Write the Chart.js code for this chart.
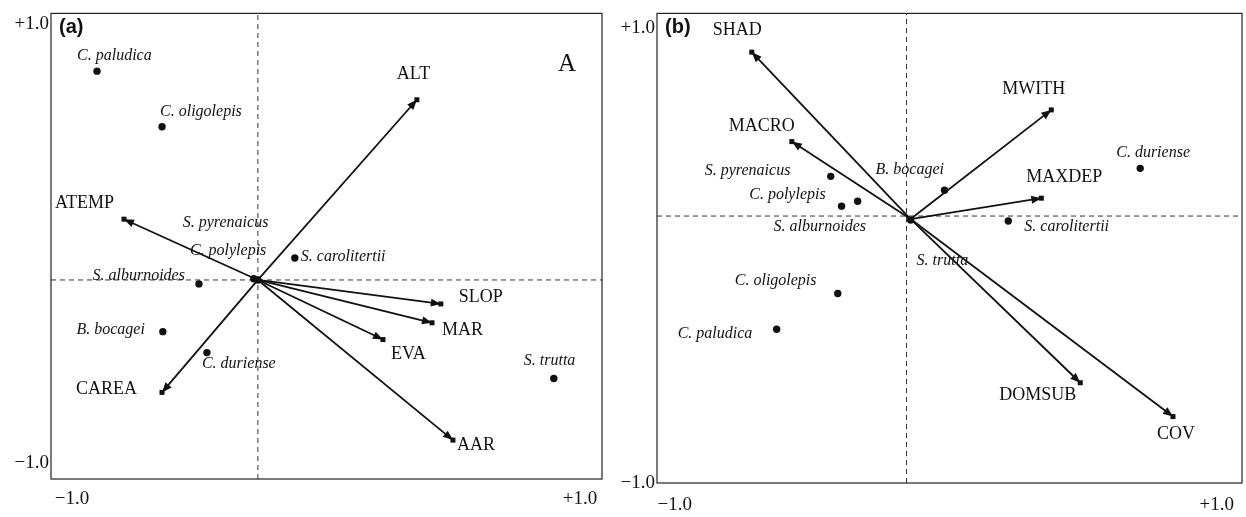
<!DOCTYPE html>
<html>
<head>
<meta charset="utf-8">
<script src="https://cdn.jsdelivr.net/npm/chart.js@4.4.1/dist/chart.umd.min.js"></script>
<style>
  html, body { margin: 0; padding: 0; background: #fff; }
  #wrap { position: relative; width: 1246px; height: 517px; }
  .panel { position: absolute; top: 0; height: 517px; }
  #panelA { left: 0; width: 620px; }
  #panelB { left: 620px; width: 626px; }
</style>
</head>
<body>
<div id="wrap">
  <div class="panel" id="panelA"><canvas id="chartA"></canvas></div>
  <div class="panel" id="panelB"><canvas id="chartB"></canvas></div>
</div>
<script>
// --- species (same list in both panels) ---
const SPECIES = ['C. paludica', 'C. oligolepis', 'S. pyrenaicus', 'C. polylepis', 'S. carolitertii',
                 'S. alburnoides', 'B. bocagei', 'C. duriense', 'S. trutta'];

// --- panel (a): landscape variables ---
const speciesAX = [-0.584, -0.348, -0.015, 0.000, 0.134, -0.214, -0.345, -0.185, 1.074];
const speciesAY = [ 0.897,  0.658,  0.005, 0.000, 0.094, -0.017, -0.222, -0.312, -0.423];
const varsA  = ['ALT', 'ATEMP', 'SLOP', 'MAR', 'EVA', 'AAR', 'CAREA'];
const varsAX = [0.577, -0.486,  0.664,  0.632,  0.454,  0.708, -0.348];
const varsAY = [0.774,  0.261, -0.103, -0.184, -0.256, -0.688, -0.483];
const arrowBaseA = [0, 0];
const rangeAX = [-0.751, 1.249];
const rangeAY = [-0.855, 1.145];
const xTickValsA = [-0.675, 1.169];
const yTickValsA = [-0.786, 1.098];

// --- panel (b): habitat variables ---
const speciesBX = [-0.444, -0.235, -0.259, -0.167, 0.348, -0.222, 0.130, 0.799,  0.014];
const speciesBY = [-0.482, -0.330,  0.169,  0.063, -0.021, 0.042, 0.110, 0.203, -0.017];
const varsB  = ['SHAD', 'MACRO', 'MWITH', 'MAXDEP', 'DOMSUB', 'COV'];
const varsBX = [-0.529, -0.392, 0.495, 0.461,  0.594,  0.911];
const varsBY = [ 0.698,  0.317, 0.452, 0.076, -0.710, -0.854];
const arrowBaseB = [0.014, -0.013];
const rangeBX = [-0.853, 1.147];
const rangeBY = [-1.137, 0.863];
const xTickValsB = [-0.792, 1.061];
const yTickValsB = [-1.137, 0.799];

const TICK_LABELS = ['\u22121.0', '+1.0'];

// --- styling ---
const INK = '#111';
const SERIF = '"Liberation Serif", "DejaVu Serif", serif';
const SPECIES_FONT = 'italic 16px ' + SERIF;
const VAR_FONT = '18px ' + SERIF;

// label offsets in px: [dx, dy, align]
const spLabelOffA = [[-20, -15], [-2, -15], [-71, -56], [-68, -29], [6, -1],
                     [-14, -8, 'right'], [-18, -2, 'right'], [-5, 11], [-30, -18]];
const varLabelOffA = [[-20, -26], [-69, -16], [18, -7], [10, 7], [8, 15], [4, 5], [-86, -3]];
const spLabelOffB = [[-99, 5], [-103, -13], [-126, -6], [-32, -6, 'right'], [16, 6],
                     [-68, 21], [-69, -20], [-24, -16], [6, 41]];
const varLabelOffB = [[-39, -22], [-63, -15], [-49, -21], [-15, -21], [-81, 13], [-16, 18]];

function makePanel(canvasId, p) {
  const datasets = [];

  // environmental arrows (drawn as plain lines, heads added by plugin)
  p.vars.forEach((name, i) => {
    datasets.push({
      label: name,
      data: [{ x: p.base[0], y: p.base[1] }, { x: p.varX[i], y: p.varY[i] }],
      showLine: true,
      borderColor: INK,
      borderWidth: 1.8,
      pointRadius: 0,
      order: 2
    });
  });

  // species scores
  datasets.push({
    label: 'species',
    data: SPECIES.map((s, i) => ({ x: p.spX[i], y: p.spY[i] })),
    pointRadius: 3.7,
    backgroundColor: INK,
    borderWidth: 0,
    order: 1
  });

  // dashed zero lines
  datasets.push({
    label: 'h0',
    data: [{ x: p.rx[0], y: 0 }, { x: p.rx[1], y: 0 }],
    showLine: true, borderColor: '#333', borderWidth: 1, borderDash: [5, 4], pointRadius: 0, order: 5
  });
  datasets.push({
    label: 'v0',
    data: [{ x: 0, y: p.ry[0] }, { x: 0, y: p.ry[1] }],
    showLine: true, borderColor: '#333', borderWidth: 1, borderDash: [5, 4], pointRadius: 0, order: 5
  });

  const marks = {
    id: 'biplotMarks',
    afterDatasetsDraw(chart) {
      const ctx = chart.ctx;
      const sx = chart.scales.x, sy = chart.scales.y;
      const area = chart.chartArea;
      ctx.save();

      // frame
      ctx.strokeStyle = '#222';
      ctx.lineWidth = 1.2;
      ctx.strokeRect(area.left, area.top, area.right - area.left, area.bottom - area.top);

      // arrow heads + end squares
      ctx.fillStyle = INK;
      const bx = sx.getPixelForValue(p.base[0]), by = sy.getPixelForValue(p.base[1]);
      p.vars.forEach((name, i) => {
        const ex = sx.getPixelForValue(p.varX[i]), ey = sy.getPixelForValue(p.varY[i]);
        const a = Math.atan2(ey - by, ex - bx);
        const c = Math.cos(a), s = Math.sin(a);
        const len = 10, half = 4;
        ctx.beginPath();
        ctx.moveTo(ex, ey);
        ctx.lineTo(ex - len * c - half * s, ey - len * s + half * c);
        ctx.lineTo(ex - len * c + half * s, ey - len * s - half * c);
        ctx.closePath();
        ctx.fill();
        ctx.fillRect(ex - 2.5, ey - 2.5, 5, 5);
      });

      // labels
      ctx.textBaseline = 'middle';
      ctx.font = SPECIES_FONT;
      SPECIES.forEach((name, i) => {
        const o = p.spOff[i];
        ctx.textAlign = o[2] || 'left';
        ctx.fillText(name, sx.getPixelForValue(p.spX[i]) + o[0], sy.getPixelForValue(p.spY[i]) + o[1]);
      });
      ctx.font = VAR_FONT;
      p.vars.forEach((name, i) => {
        const o = p.varOff[i];
        ctx.textAlign = o[2] || 'left';
        ctx.fillText(name, sx.getPixelForValue(p.varX[i]) + o[0], sy.getPixelForValue(p.varY[i]) + o[1]);
      });

      // panel letter
      ctx.textAlign = 'left';
      ctx.font = 'bold 20px "Liberation Sans", Arial, sans-serif';
      ctx.fillText(p.tag, area.left + 8, area.top + 14);
      if (p.corner) {
        ctx.font = '25px ' + SERIF;
        ctx.textAlign = 'center';
        ctx.fillText(p.corner, area.right - 35, area.top + 51);
      }
      ctx.restore();
    }
  };

  return new Chart(document.getElementById(canvasId), {
    type: 'scatter',
    data: { datasets },
    options: {
      animation: false,
      responsive: true,
      maintainAspectRatio: false,
      layout: { padding: p.pad },
      plugins: { legend: { display: false }, tooltip: { enabled: false } },
      scales: {
        x: {
          type: 'linear', min: p.rx[0], max: p.rx[1],
          grid: { display: false, drawTicks: false }, border: { display: false },
          afterBuildTicks: axis => { axis.ticks = p.xTicks.map(v => ({ value: v })); },
          afterFit: axis => { axis.height = p.xAxisH; },
          ticks: {
            autoSkip: false, maxRotation: 0, padding: p.xPad, color: INK,
            font: { family: SERIF, size: 19 },
            callback: (v, i) => TICK_LABELS[i]
          }
        },
        y: {
          type: 'linear', min: p.ry[0], max: p.ry[1],
          grid: { display: false, drawTicks: false }, border: { display: false },
          afterBuildTicks: axis => { axis.ticks = p.yTicks.map(v => ({ value: v })); },
          afterFit: axis => { axis.width = p.yAxisW; },
          ticks: {
            autoSkip: false, padding: 2, color: INK,
            font: { family: SERIF, size: 19 },
            callback: (v, i) => TICK_LABELS[i]
          }
        }
      }
    },
    plugins: [marks]
  });
}

makePanel('chartA', {
  tag: '(a)', corner: 'A',
  spX: speciesAX, spY: speciesAY, spOff: spLabelOffA,
  vars: varsA, varX: varsAX, varY: varsAY, varOff: varLabelOffA,
  base: arrowBaseA, rx: rangeAX, ry: rangeAY,
  xTicks: xTickValsA, yTicks: yTickValsA,
  pad: { left: 0, top: 11, right: 18, bottom: 0 }, yAxisW: 51, xAxisH: 38, xPad: 9
});

makePanel('chartB', {
  tag: '(b)', corner: null,
  spX: speciesBX, spY: speciesBY, spOff: spLabelOffB,
  vars: varsB, varX: varsBX, varY: varsBY, varOff: varLabelOffB,
  base: arrowBaseB, rx: rangeBX, ry: rangeBY,
  xTicks: xTickValsB, yTicks: yTickValsB,
  pad: { left: 0, top: 10, right: 3, bottom: 0 }, yAxisW: 37, xAxisH: 34, xPad: 11
});
</script>
</body>
</html>
